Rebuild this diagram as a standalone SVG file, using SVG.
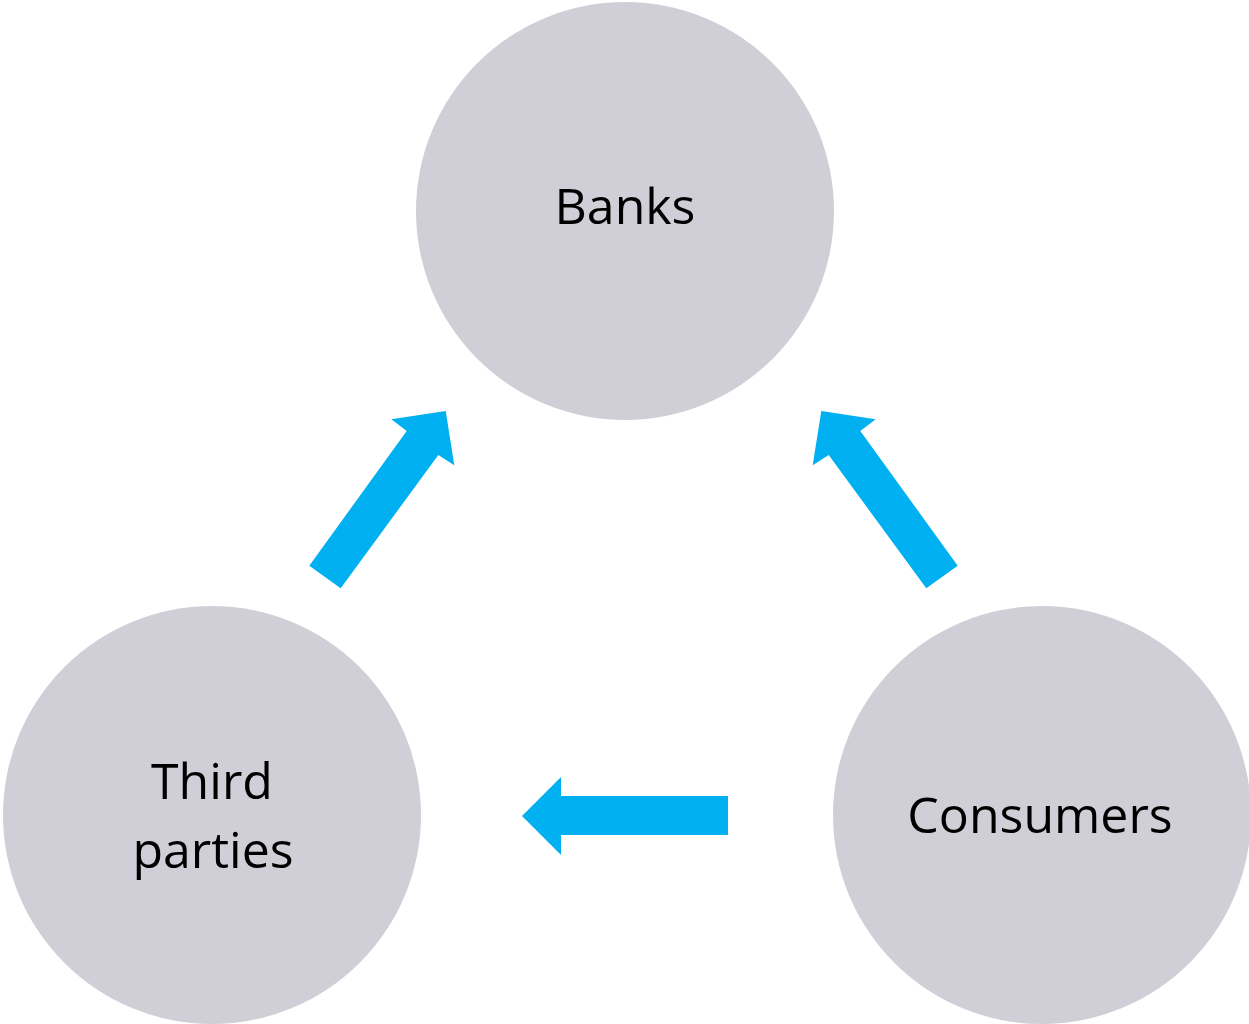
<svg xmlns="http://www.w3.org/2000/svg" width="1249" height="1024" viewBox="0 0 1249 1024">
<style>
.node{fill:#D0CFD7}
.lbl{font-family:"Open Sans","Liberation Sans",sans-serif;font-size:50px;fill:#000;text-anchor:middle}
.arrow{fill:#00B0F0}
</style>
<rect width="1249" height="1024" fill="#FFFFFF"/>
<g id="banks">
<circle class="node" cx="625" cy="211" r="209"/>
<text class="lbl" x="625" y="224">Banks</text>
</g>
<g id="third-parties">
<circle class="node" cx="212" cy="815" r="209"/>
<text class="lbl" x="212" y="799">Third</text>
<text class="lbl" x="213" y="868">parties</text>
</g>
<g id="consumers">
<circle class="node" cx="1042" cy="815" r="209"/>
<text class="lbl" x="1040" y="833">Consumers</text>
</g>
<g id="connectors">
<polygon class="arrow" points="309.3,565.7 340.7,588.3 438.3,455 454.3,465.3 445.7,411 391.3,419.3 406.7,431"/>
<polygon class="arrow" points="957.7,565.7 926.3,588.3 828.7,455 812.7,465.3 821.3,411 875.7,419.3 860.3,431"/>
<polygon class="arrow" points="728,796 728,835 561,835 561,855 522,816 561,777 561,796"/>
</g>
</svg>
